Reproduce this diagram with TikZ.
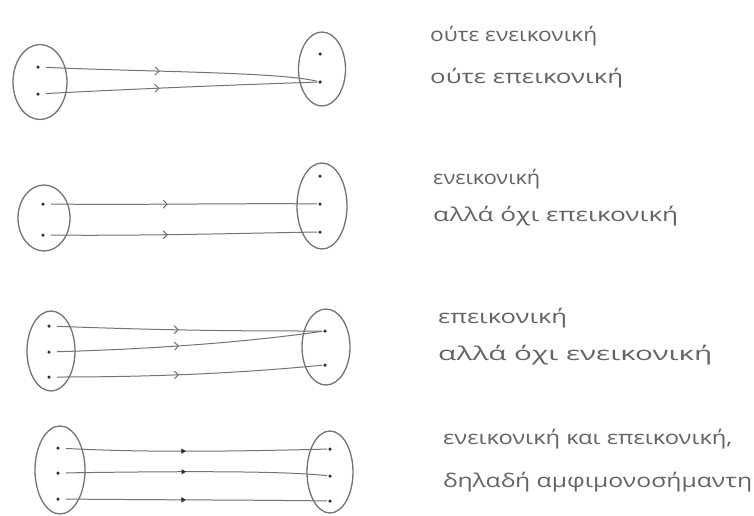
\documentclass[tikz,border=0pt]{standalone}
\usepackage{fontspec}
\setmainfont{Open Sans}
\usepackage{graphicx}
\usetikzlibrary{shapes.geometric,decorations.markings,arrows.meta}
\definecolor{pencil}{RGB}{115,115,115}
\definecolor{ink}{RGB}{100,100,100}
\definecolor{dotc}{RGB}{45,45,45}
\tikzset{
  setshape/.style={draw=pencil, line width=1.3pt, ellipse, inner sep=0pt},
  pnt/.style={circle, fill=dotc, inner sep=0pt, minimum size=3.5pt},
  conn/.style={draw=pencil, line width=1pt, shorten <=6pt, shorten >=1pt,
    postaction={decorate},
    decoration={markings, mark=at position #1 with {\arrow[pencil,line width=1pt]{Straight Barb[length=4pt,width=8pt]}}}},
  conn/.default=0.45,
  connf/.style={draw=pencil, line width=1pt, shorten <=6pt, shorten >=1pt,
    postaction={decorate},
    decoration={markings, mark=at position #1 with {\arrow[dotc]{Triangle[length=4.5pt,width=5pt]}}}},
  connf/.default=0.47,
  lbl/.style={anchor=base west, inner sep=0pt, text=ink, font=\fontsize{19}{22}\selectfont}
}
\begin{document}
\begin{tikzpicture}[x=1pt,y=-1pt]
\fill[white] (0,0) rectangle (754,515);
\useasboundingbox (0,0) rectangle (754,515);

% ---------- row 1 ----------
\node[setshape, minimum width=54pt, minimum height=75pt] (r1L) at (40,82) {};
\node[setshape, minimum width=47pt, minimum height=74pt] (r1R) at (322,69) {};
\node[pnt] (r1a1) at (38,67) {};
\node[pnt] (r1a2) at (38,94) {};
\node[pnt] (r1b1) at (320,54) {};
\node[pnt] (r1b2) at (320,82) {};
\draw[conn=0.43] (r1a1) .. controls (150,72) and (280,72) .. (r1b2);
\draw[conn=0.43] (r1a2) .. controls (150,88) and (260,84) .. (r1b2);
\node[lbl] (t1a) at (430,41) {\resizebox{167pt}{\height}{ούτε ενεικονική}};
\node[lbl] (t1b) at (430,83) {\resizebox{193pt}{\height}{ούτε επεικονική}};

% ---------- row 2 ----------
\node[setshape, minimum width=52pt, minimum height=66pt] (r2L) at (44,218) {};
\node[setshape, minimum width=50pt, minimum height=86pt] (r2R) at (322,206) {};
\node[pnt] (r2a1) at (43,204) {};
\node[pnt] (r2a2) at (43,235) {};
\node[pnt] (r2b1) at (320,176) {};
\node[pnt] (r2b2) at (320,204) {};
\node[pnt] (r2b3) at (320,232) {};
\draw[conn=0.45] (r2a1) .. controls (150,205) and (250,203) .. (r2b2);
\draw[conn=0.45] (r2a2) .. controls (150,236) and (250,233) .. (r2b3);
\node[lbl] (t2a) at (433,184) {\resizebox{107pt}{\height}{ενεικονική}};
\node[lbl] (t2b) at (433,221) {\resizebox{245pt}{\height}{αλλά όχι επεικονική}};

% ---------- row 3 ----------
\node[setshape, minimum width=48pt, minimum height=80pt] (r3L) at (51,351) {};
\node[setshape, minimum width=48pt, minimum height=76pt] (r3R) at (326,347) {};
\node[pnt] (r3a1) at (49,326) {};
\node[pnt] (r3a2) at (49,352) {};
\node[pnt] (r3a3) at (49,377) {};
\node[pnt] (r3b1) at (325,331) {};
\node[pnt] (r3b2) at (325,365) {};
\draw[conn=0.47] (r3a1) .. controls (180,331) and (260,331) .. (r3b1);
\draw[conn=0.47] (r3a2) .. controls (180,348) and (260,340) .. (r3b1);
\draw[conn=0.47] (r3a3) .. controls (180,377) and (260,371) .. (r3b2);
\node[lbl] (t3a) at (438,323) {\resizebox{129pt}{\height}{επεικονική}};
\node[lbl] (t3b) at (438,360) {\resizebox{274pt}{\height}{αλλά όχι ενεικονική}};

% ---------- row 4 ----------
\node[setshape, minimum width=50pt, minimum height=88pt] (r4L) at (60,470) {};
\node[setshape, minimum width=46pt, minimum height=82pt] (r4R) at (330,472) {};
\node[pnt] (r4a1) at (58,448) {};
\node[pnt] (r4a2) at (58,473) {};
\node[pnt] (r4a3) at (58,499) {};
\node[pnt] (r4b1) at (330,449) {};
\node[pnt] (r4b2) at (330,476) {};
\node[pnt] (r4b3) at (330,501) {};
\draw[connf=0.47] (r4a1) .. controls (150,453) and (250,451) .. (r4b1);
\draw[connf=0.47] (r4a2) .. controls (190,471) and (285,471) .. (r4b2);
\draw[connf=0.47] (r4a3) .. controls (180,500) and (260,500) .. (r4b3);
\node[lbl] (t4a) at (443,444) {\resizebox{289pt}{\height}{ενεικονική και επεικονική,}};
\node[lbl] (t4b) at (443,487) {\resizebox{309pt}{\height}{δηλαδή αμφιμονοσήμαντη}};
\end{tikzpicture}
\end{document}
